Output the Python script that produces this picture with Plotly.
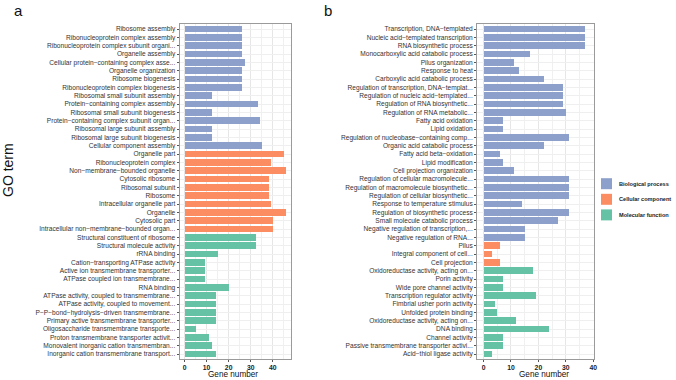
import plotly.graph_objects as go

# ---------------- data ----------------
labels_a = [
    "Ribosome assembly", "Ribonucleoprotein complex assembly",
    "Ribonucleoprotein complex subunit organi...", "Organelle assembly",
    "Cellular protein−containing complex asse...", "Organelle organization",
    "Ribosome biogenesis", "Ribonucleoprotein complex biogenesis",
    "Ribosomal small subunit assembly", "Protein−containing complex assembly",
    "Ribosomal small subunit biogenesis", "Protein−containing complex subunit organ...",
    "Ribosomal large subunit assembly", "Ribosomal large subunit biogenesis",
    "Cellular component assembly",
    "Organelle part", "Ribonucleoprotein complex", "Non−membrane−bounded organelle",
    "Cytosolic ribosome", "Ribosomal subunit", "Ribosome", "Intracellular organelle part",
    "Organelle", "Cytosolic part", "Intracellular non−membrane−bounded organ...",
    "Structural constituent of ribosome", "Structural molecule activity", "rRNA binding",
    "Cation−transporting ATPase activity", "Active ion transmembrane transporter...",
    "ATPase coupled ion transmembrane...", "RNA binding",
    "ATPase activity, coupled to transmembrane...", "ATPase activity, coupled to movement...",
    "P−P−bond−hydrolysis−driven transmembrane...", "Primary active transmembrane transporter...",
    "Oligosaccharide transmembrane transporte...", "Proton transmembrane transporter activit...",
    "Monovalent inorganic cation transmembran...", "Inorganic cation transmembrane transport...",
]
values_a = [26, 26, 26, 26, 27, 26, 26, 26, 12, 33, 12, 34, 12, 12, 35,
            45, 39, 46, 38, 38, 38, 39, 46, 40, 40,
            32, 32, 15, 9, 9, 9, 20, 14, 14, 14, 14, 5, 11, 12, 14]
groups_a = ["BP"] * 15 + ["CC"] * 10 + ["MF"] * 15

labels_b = [
    "Transcription, DNA−templated", "Nucleic acid−templated transcription",
    "RNA biosynthetic process", "Monocarboxylic acid catabolic process",
    "Pilus organization", "Response to heat", "Carboxylic acid catabolic process",
    "Regulation of transcription, DNA−templat...", "Regulation of nucleic acid−templated...",
    "Regulation of RNA biosynthetic...", "Regulation of RNA metabolic...",
    "Fatty acid oxidation", "Lipid oxidation", "Regulation of nucleobase−containing comp...",
    "Organic acid catabolic process", "Fatty acid beta−oxidation", "Lipid modification",
    "Cell projection organization", "Regulation of cellular macromolecule...",
    "Regulation of macromolecule biosynthetic...", "Regulation of cellular biosynthetic...",
    "Response to temperature stimulus", "Regulation of biosynthetic process",
    "Small molecule catabolic process", "Negative regulation of transcription,...",
    "Negative regulation of RNA...",
    "Pilus", "Integral component of cell...", "Cell projection",
    "Oxidoreductase activity, acting on...", "Porin activity", "Wide pore channel activity",
    "Transcription regulator activity", "Fimbrial usher porin activity",
    "Unfolded protein binding", "Oxidoreductase activity, acting on...", "DNA binding",
    "Channel activity", "Passive transmembrane transporter activi...", "Acid−thiol ligase activity",
]
values_b = [37, 37, 37, 17, 11, 13, 22, 29, 29, 29, 30, 7, 7, 31, 22, 6, 7, 11,
            31, 31, 31, 14, 31, 27, 15, 15,
            6, 3, 6,
            18, 7, 7, 19, 4, 5, 12, 24, 7, 7, 3]
groups_b = ["BP"] * 26 + ["CC"] * 3 + ["MF"] * 11

group_keys = ["BP", "CC", "MF"]
group_names = {"BP": "Biological process", "CC": "Cellular component", "MF": "Molecular function"}
group_colors = {"BP": "#8DA0CB", "CC": "#FC8D62", "MF": "#66C2A5"}
x_ticks = [0, 10, 20, 30, 40]

# ---------------- figure ----------------
W, H = 676, 380
fig = go.Figure()

for panel, (labels, values, groups) in enumerate(
        [(labels_a, values_a, groups_a), (labels_b, values_b, groups_b)]):
    xa = "x" if panel == 0 else "x2"
    ya = "y" if panel == 0 else "y2"
    for g in group_keys:
        idx = [i for i, gg in enumerate(groups) if gg == g]
        fig.add_trace(go.Bar(
            x=[values[i] for i in idx], y=idx, orientation="h",
            marker=dict(color=group_colors[g], line=dict(width=0)),
            width=0.8, name=group_names[g], legendgroup=g,
            showlegend=False, xaxis=xa, yaxis=ya, hoverinfo="skip",
        ))

FAM = "Liberation Sans, Arial, sans-serif"
tickfont = dict(family=FAM, size=6.6, color="#333333")
xtickfont = dict(family=FAM, size=6.8, color="#222222", weight="bold")
grid = "#E6E6E6"
border = "#9A9A9A"
ydom = [1 - 359 / H, 1 - 24 / H]

common_x = dict(tickvals=x_ticks, ticks="outside", ticklen=2, tickcolor="#555",
                tickfont=xtickfont, showgrid=True, gridcolor=grid, gridwidth=0.7,
                minor=dict(dtick=5, tick0=0, showgrid=True, gridcolor="#F0F0F0", gridwidth=0.5),
                zeroline=False, showline=True, linecolor=border, linewidth=0.8, mirror=True,
                automargin=False)
common_y = dict(ticks="outside", ticklen=2, tickcolor="#555", tickfont=tickfont,
                showgrid=True, gridcolor="#EFEFEF", gridwidth=0.5, zeroline=False,
                showline=True, linecolor=border, linewidth=0.8, mirror=True,
                range=[39.6, -0.6], automargin=False)

fig.update_layout(
    width=W, height=H, margin=dict(l=0, r=0, t=0, b=0, autoexpand=False),
    paper_bgcolor="white", plot_bgcolor="white", bargap=0, showlegend=False,
    xaxis=dict(domain=[179.5 / W, 291 / W], range=[-2.3, 48.3], anchor="y", **common_x),
    yaxis=dict(domain=ydom, anchor="x", tickvals=list(range(len(labels_a))),
               ticktext=labels_a, **common_y),
    xaxis2=dict(domain=[477 / W, 594 / W], range=[-2.4, 40.3], anchor="y2", **common_x),
    yaxis2=dict(domain=ydom, anchor="x2", tickvals=list(range(len(labels_b))),
                ticktext=labels_b, **common_y),
)

# legend (key squares + labels)
for k, g in enumerate(group_keys):
    yc = 183.7 + 15.6 * k
    fig.add_shape(type="rect", xref="paper", yref="paper",
                  x0=601 / W, x1=612 / W, y0=1 - (yc + 5.5) / H, y1=1 - (yc - 5.5) / H,
                  fillcolor=group_colors[g], line=dict(width=0))
    fig.add_annotation(text=group_names[g], x=617 / W, y=1 - yc / H, xref="paper",
                       yref="paper", xanchor="left", yanchor="middle", showarrow=False,
                       font=dict(family=FAM, size=5.6, color="#222", weight="bold"))

ann_font = dict(family=FAM, color="#111")
fig.add_annotation(text="a", x=18 / W, y=1 - 11 / H, xref="paper", yref="paper",
                   xanchor="center", yanchor="middle",
                   showarrow=False, font=dict(size=15, **ann_font))
fig.add_annotation(text="b", x=328 / W, y=1 - 11 / H, xref="paper", yref="paper",
                   xanchor="center", yanchor="middle",
                   showarrow=False, font=dict(size=15, **ann_font))
fig.add_annotation(text="GO term", x=8 / W, y=1 - 170 / H, xref="paper", yref="paper",
                   xanchor="center", yanchor="middle",
                   showarrow=False, textangle=-90, font=dict(size=14, **ann_font))
fig.add_annotation(text="Gene number", x=233 / W, y=0, xref="paper", yref="paper",
                   xanchor="center", yanchor="bottom", showarrow=False, borderpad=0,
                   font=dict(size=8.2, **ann_font))
fig.add_annotation(text="Gene number", x=544 / W, y=0, xref="paper", yref="paper",
                   xanchor="center", yanchor="bottom", showarrow=False, borderpad=0,
                   font=dict(size=8.2, **ann_font))

fig.write_html("out.html", config={"displayModeBar": False},
               post_script="document.body.style.margin='0px';")
